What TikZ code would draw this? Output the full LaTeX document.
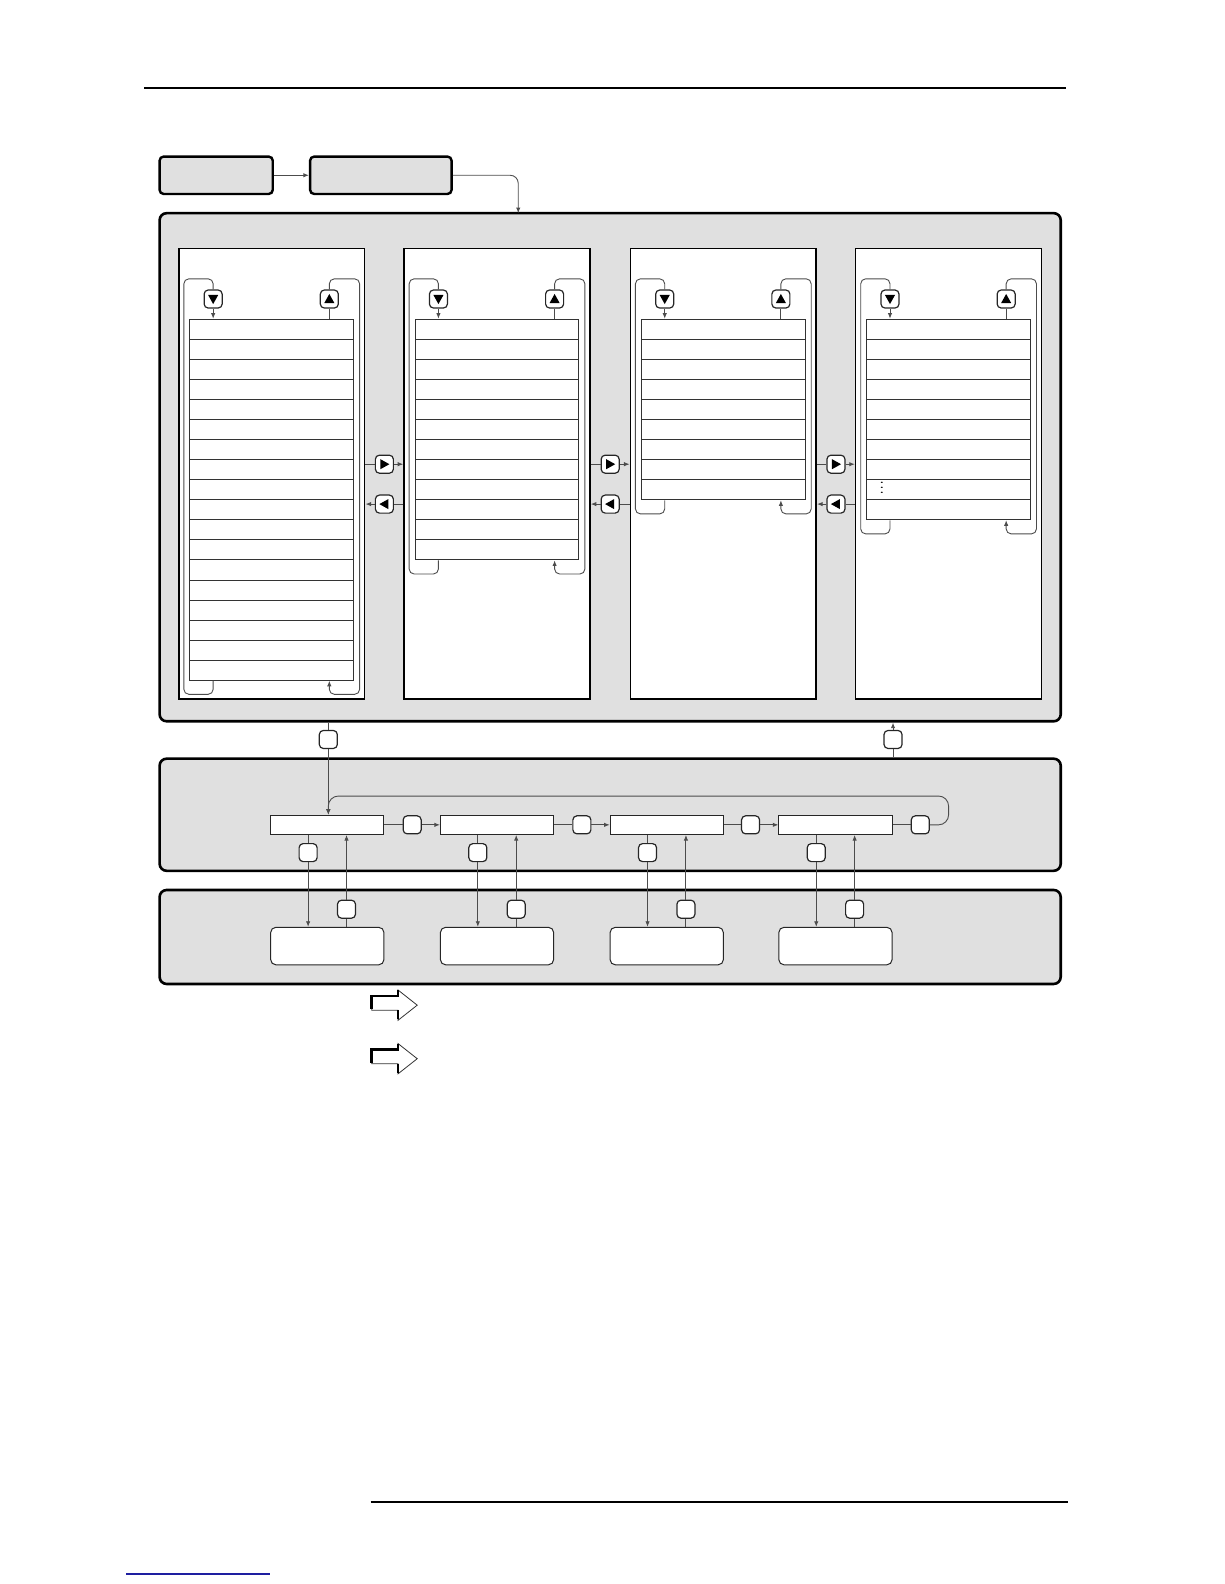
\documentclass[tikz,border=0pt]{standalone}
\usepackage{tikz}
\usetikzlibrary{arrows.meta,fit}
\definecolor{panelgray}{RGB}{224,224,224}
\definecolor{linkblue}{RGB}{30,30,160}

\begin{document}
\begin{tikzpicture}[x=0.505pt, y=-0.505pt,
    wire/.style={draw=black!70, line width=0.45pt},
    arr/.style={wire, -{Latex[length=2.8pt,width=2.2pt]}},
    panel/.style={draw=black, fill=panelgray, line width=1.3pt, rounded corners=3.5pt, inner sep=0pt},
    topbox/.style={draw=black, fill=panelgray, line width=1.2pt, rounded corners=2pt, inner sep=0pt},
    colbox/.style={draw=black, fill=white, line width=0.8pt, inner sep=0pt},
    listbox/.style={draw=black!80, line width=0.5pt, inner sep=0pt},
    rowline/.style={draw=black!80, line width=0.45pt},
    rowbox/.style={draw=black!85, fill=white, line width=0.5pt, inner sep=0pt},
    devbox/.style={draw=black!85, fill=white, line width=0.5pt, rounded corners=2.5pt, inner sep=0pt},
    btn/.style={draw=black!85, fill=white, line width=0.6pt, rounded corners=2pt, minimum width=9pt, minimum height=9pt, inner sep=0pt},
    btndown/.style={btn, path picture={\fill[black, sharp corners] ([shift={(-5,-4)}]path picture bounding box.center) -- ++(10,0) -- ++(-5,9) -- cycle;}},
    btnup/.style={btn, path picture={\fill[black, sharp corners] ([shift={(-5,4)}]path picture bounding box.center) -- ++(10,0) -- ++(-5,-9) -- cycle;}},
    btnright/.style={btn, path picture={\fill[black, sharp corners] ([shift={(-4,-5)}]path picture bounding box.center) -- ++(0,10) -- ++(9,-5) -- cycle;}},
    btnleft/.style={btn, path picture={\fill[black, sharp corners] ([shift={(4,-5)}]path picture bounding box.center) -- ++(0,10) -- ++(-9,-5) -- cycle;}}]
\useasboundingbox (0,0) rectangle (1212,1568);

% page rules
\draw[line width=0.7pt] (143,87) -- (1055,87);
\draw[line width=0.7pt] (367,1487) -- (1057,1487);
\draw[linkblue, line width=0.8pt] (125,1558) -- (267,1558);

% top boxes
\node[topbox, fit={(158,155) (270,192)}] (boxA) {};
\node[topbox, fit={(307,155) (447,192)}] (boxB) {};
\coordinate (mainin) at (513,211);

% panels
\node[panel, fit={(158,211) (1050,714)}] (main) {};
\node[panel, fit={(158,751) (1050,862)}] (ring) {};
\node[panel, fit={(158,881) (1050,974)}] (devs) {};

\draw[arr] (boxA.east) -- (boxB.west);
\draw[arr, rounded corners=4pt] (boxB.east) -| (mainin);

% columns
\node[colbox, fit={(177,246) (361,692)}] (col1) {};
\node[colbox, fit={(400,246) (584,692)}] (col2) {};
\node[colbox, fit={(624,246) (808,692)}] (col3) {};
\node[colbox, fit={(847,246) (1031,692)}] (col4) {};

% lists
\node[listbox, fit={(188,316) (350,673.3)}] (list1) {};
\node[listbox, fit={(411,316) (573,554.2)}] (list2) {};
\node[listbox, fit={(635,316) (797,494.7)}] (list3) {};
\node[listbox, fit={(858,316) (1020,514.5)}] (list4) {};

\draw[rowline] (188,335.9) -- (350,335.9);
\draw[rowline] (188,355.7) -- (350,355.7);
\draw[rowline] (188,375.6) -- (350,375.6);
\draw[rowline] (188,395.4) -- (350,395.4);
\draw[rowline] (188,415.3) -- (350,415.3);
\draw[rowline] (188,435.1) -- (350,435.1);
\draw[rowline] (188,455) -- (350,455);
\draw[rowline] (188,474.8) -- (350,474.8);
\draw[rowline] (188,494.7) -- (350,494.7);
\draw[rowline] (188,514.5) -- (350,514.5);
\draw[rowline] (188,534.4) -- (350,534.4);
\draw[rowline] (188,554.2) -- (350,554.2);
\draw[rowline] (188,574.1) -- (350,574.1);
\draw[rowline] (188,593.9) -- (350,593.9);
\draw[rowline] (188,613.8) -- (350,613.8);
\draw[rowline] (188,633.6) -- (350,633.6);
\draw[rowline] (188,653.5) -- (350,653.5);

\draw[rowline] (411,335.9) -- (573,335.9);
\draw[rowline] (411,355.7) -- (573,355.7);
\draw[rowline] (411,375.6) -- (573,375.6);
\draw[rowline] (411,395.4) -- (573,395.4);
\draw[rowline] (411,415.3) -- (573,415.3);
\draw[rowline] (411,435.1) -- (573,435.1);
\draw[rowline] (411,455) -- (573,455);
\draw[rowline] (411,474.8) -- (573,474.8);
\draw[rowline] (411,494.7) -- (573,494.7);
\draw[rowline] (411,514.5) -- (573,514.5);
\draw[rowline] (411,534.4) -- (573,534.4);

\draw[rowline] (635,335.9) -- (797,335.9);
\draw[rowline] (635,355.7) -- (797,355.7);
\draw[rowline] (635,375.6) -- (797,375.6);
\draw[rowline] (635,395.4) -- (797,395.4);
\draw[rowline] (635,415.3) -- (797,415.3);
\draw[rowline] (635,435.1) -- (797,435.1);
\draw[rowline] (635,455) -- (797,455);
\draw[rowline] (635,474.8) -- (797,474.8);

\draw[rowline] (858,335.9) -- (1020,335.9);
\draw[rowline] (858,355.7) -- (1020,355.7);
\draw[rowline] (858,375.6) -- (1020,375.6);
\draw[rowline] (858,395.4) -- (1020,395.4);
\draw[rowline] (858,415.3) -- (1020,415.3);
\draw[rowline] (858,435.1) -- (1020,435.1);
\draw[rowline] (858,455) -- (1020,455);
\draw[rowline] (858,474.8) -- (1020,474.8);
\draw[rowline] (858,494.7) -- (1020,494.7);
\node[inner sep=0pt] (dots) at (873,479.5) {\scalebox{1}[0.625]{$\vdots$}};

% scroll buttons
\node[btndown] (d1) at (211,296) {};
\node[btnup] (u1) at (326,296) {};
\node[btndown] (d2) at (434,296) {};
\node[btnup] (u2) at (549,296) {};
\node[btndown] (d3) at (658,296) {};
\node[btnup] (u3) at (773,296) {};
\node[btndown] (d4) at (881,296) {};
\node[btnup] (u4) at (996,296) {};

\draw[wire, rounded corners=2.5pt] (d1.north) |- (182,276) -- (182,687.3) -| (d1 |- list1.south);
\draw[arr] (d1.south) -- (d1 |- list1.north);
\draw[wire] (u1.south) -- (u1 |- list1.north);
\draw[arr, rounded corners=2.5pt] (u1.north) |- (356,276) -- (356,687.3) -| (u1 |- list1.south);

\draw[wire, rounded corners=2.5pt] (d2.north) |- (405,276) -- (405,568.2) -| (d2 |- list2.south);
\draw[arr] (d2.south) -- (d2 |- list2.north);
\draw[wire] (u2.south) -- (u2 |- list2.north);
\draw[arr, rounded corners=2.5pt] (u2.north) |- (579,276) -- (579,568.2) -| (u2 |- list2.south);

\draw[wire, rounded corners=2.5pt] (d3.north) |- (629,276) -- (629,508.7) -| (d3 |- list3.south);
\draw[arr] (d3.south) -- (d3 |- list3.north);
\draw[wire] (u3.south) -- (u3 |- list3.north);
\draw[arr, rounded corners=2.5pt] (u3.north) |- (803,276) -- (803,508.7) -| (u3 |- list3.south);

\draw[wire, rounded corners=2.5pt] (d4.north) |- (852,276) -- (852,528.5) -| (d4 |- list4.south);
\draw[arr] (d4.south) -- (d4 |- list4.north);
\draw[wire] (u4.south) -- (u4 |- list4.north);
\draw[arr, rounded corners=2.5pt] (u4.north) |- (1026,276) -- (1026,528.5) -| (u4 |- list4.south);

% page buttons
\node[btnright] (r1) at (380.5,459.5) {};
\node[btnleft] (l1) at (380.5,499) {};
\node[btnright] (r2) at (604,459.5) {};
\node[btnleft] (l2) at (604,499) {};
\node[btnright] (r3) at (827.5,459.5) {};
\node[btnleft] (l3) at (827.5,499) {};

\draw[wire] (col1.east |- r1) -- (r1.west);
\draw[arr] (r1.east) -- (col2.west |- r1);
\draw[wire] (col2.west |- l1) -- (l1.east);
\draw[arr] (l1.west) -- (col1.east |- l1);
\draw[wire] (col2.east |- r2) -- (r2.west);
\draw[arr] (r2.east) -- (col3.west |- r2);
\draw[wire] (col3.west |- l2) -- (l2.east);
\draw[arr] (l2.west) -- (col2.east |- l2);
\draw[wire] (col3.east |- r3) -- (r3.west);
\draw[arr] (r3.east) -- (col4.west |- r3);
\draw[wire] (col4.west |- l3) -- (l3.east);
\draw[arr] (l3.west) -- (col3.east |- l3);

% ring
\node[rowbox, fit={(268,807) (380,826)}] (rb1) {};
\node[rowbox, fit={(436,807) (548,826)}] (rb2) {};
\node[rowbox, fit={(604,807) (716,826)}] (rb3) {};
\node[rowbox, fit={(771,807) (883,826)}] (rb4) {};
\node[btn] (s1) at (325,732) {};
\node[btn] (s2) at (884,732) {};
\node[btn] (p1) at (408,816.5) {};
\node[btn] (p2) at (576,816.5) {};
\node[btn] (p3) at (743,816.5) {};
\node[btn] (p4) at (911,816.5) {};

\draw[wire] (s1 |- main.south) -- (s1.north);
\draw[arr] (s1.south) -- (s1 |- rb1.north);
\draw[wire] (s2 |- ring.north) -- (s2.south);
\draw[arr] (s2.north) -- (s2 |- main.south);
\draw[wire] (rb1.east) -- (p1.west);
\draw[arr] (p1.east) -- (rb2.west);
\draw[wire] (rb2.east) -- (p2.west);
\draw[arr] (p2.east) -- (rb3.west);
\draw[wire] (rb3.east) -- (p3.west);
\draw[arr] (p3.east) -- (rb4.west);
\draw[wire] (rb4.east) -- (p4.west);
\draw[arr, rounded corners=5pt] (p4.east) -- (939,816.5) -- (939,788) -- (325,788) -- (s1 |- rb1.north);

% devices
\node[devbox, fit={(268,918) (380,955)}] (dev1) {};
\node[devbox, fit={(436,918) (548,955)}] (dev2) {};
\node[devbox, fit={(604,918) (716,955)}] (dev3) {};
\node[devbox, fit={(771,918) (883,955)}] (dev4) {};
\node[btn] (q1) at (305,844) {};
\node[btn] (q2) at (473,844) {};
\node[btn] (q3) at (641,844) {};
\node[btn] (q4) at (808,844) {};
\node[btn] (w1) at (343,900) {};
\node[btn] (w2) at (511,900) {};
\node[btn] (w3) at (679,900) {};
\node[btn] (w4) at (846,900) {};

\draw[wire] (q1 |- rb1.south) -- (q1.north);
\draw[arr] (q1.south) -- (q1 |- dev1.north);
\draw[wire] (w1 |- dev1.north) -- (w1.south);
\draw[arr] (w1.north) -- (w1 |- rb1.south);
\draw[wire] (q2 |- rb2.south) -- (q2.north);
\draw[arr] (q2.south) -- (q2 |- dev2.north);
\draw[wire] (w2 |- dev2.north) -- (w2.south);
\draw[arr] (w2.north) -- (w2 |- rb2.south);
\draw[wire] (q3 |- rb3.south) -- (q3.north);
\draw[arr] (q3.south) -- (q3 |- dev3.north);
\draw[wire] (w3 |- dev3.north) -- (w3.south);
\draw[arr] (w3.north) -- (w3 |- rb3.south);
\draw[wire] (q4 |- rb4.south) -- (q4.north);
\draw[arr] (q4.south) -- (q4 |- dev4.north);
\draw[wire] (w4 |- dev4.north) -- (w4.south);
\draw[arr] (w4.north) -- (w4 |- rb4.south);

% hollow arrows
\draw[black!80, fill=white, line width=0.4pt] (368,986) -- (394,986) -- (394,980) -- (413,995) -- (394,1010) -- (394,1000) -- (368,1000) -- cycle;
\draw[line width=1.4pt] (368,999) -- (368,986) -- (394,986) -- (394,980);
\draw[line width=1.4pt] (394,1000) -- (394,1009);
\draw[black!80, fill=white, line width=0.4pt] (368,1039) -- (394,1039) -- (394,1033) -- (413,1048) -- (394,1063) -- (394,1053) -- (368,1053) -- cycle;
\draw[line width=1.4pt] (368,1052) -- (368,1039) -- (394,1039) -- (394,1033);
\draw[line width=1.4pt] (394,1053) -- (394,1062);
\end{tikzpicture}
\end{document}
